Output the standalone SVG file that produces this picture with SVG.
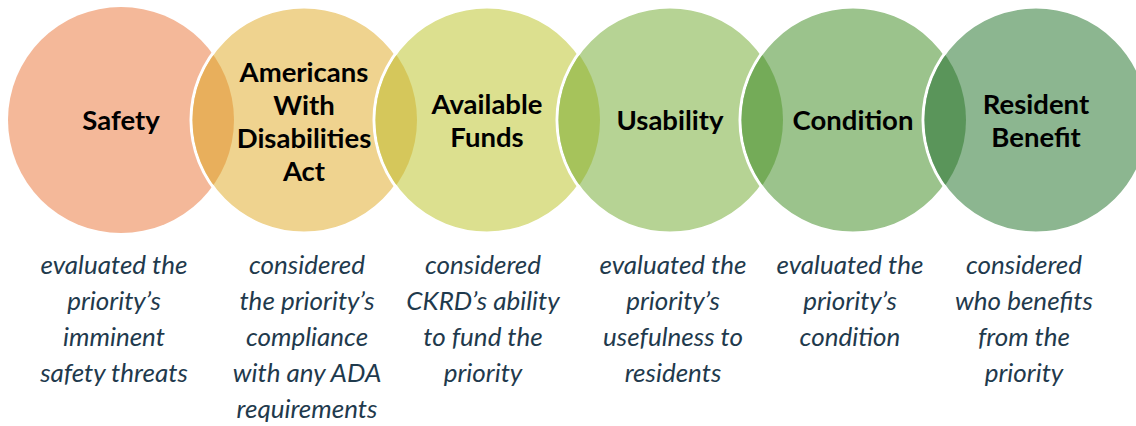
<svg xmlns="http://www.w3.org/2000/svg" width="1136" height="426" viewBox="0 0 1136 426">
<style>
.c{stroke:#fff;stroke-width:3}
.t{font-family:Lato,"Liberation Sans",sans-serif;font-weight:bold;font-size:27.5px;fill:#000;text-anchor:middle}
.d{font-family:Lato,"Liberation Sans",sans-serif;font-style:italic;font-size:26px;fill:#1F3A4D;text-anchor:middle}
</style>
<rect width="1136" height="426" fill="#fff"/>
<defs>
<clipPath id="k1"><circle cx="121" cy="120" r="113"/></clipPath>
<clipPath id="k2"><circle cx="304" cy="120" r="113"/></clipPath>
<clipPath id="k3"><circle cx="487" cy="120" r="113"/></clipPath>
<clipPath id="k4"><circle cx="670" cy="120" r="113"/></clipPath>
<clipPath id="k5"><circle cx="853" cy="120" r="113"/></clipPath>
</defs>
<g id="safety">
<circle cx="121" cy="120" r="113" fill="#F4B899"/>
<text class="t" x="121" y="130">Safety</text>
</g>
<g id="ada">
<circle class="c" cx="304" cy="120" r="113" fill="#EFD38F"/>
<circle cx="304" cy="120" r="111.5" fill="#E8AF5C" clip-path="url(#k1)"/>
<text class="t" x="304" y="82">Americans</text>
<text class="t" x="304" y="115">With</text>
<text class="t" x="304" y="148">Disabilities</text>
<text class="t" x="304" y="181">Act</text>
</g>
<g id="funds">
<circle class="c" cx="487" cy="120" r="113" fill="#DCE08F"/>
<circle cx="487" cy="120" r="111.5" fill="#D5C75B" clip-path="url(#k2)"/>
<text class="t" x="487" y="114">Available</text>
<text class="t" x="487" y="147">Funds</text>
</g>
<g id="usability">
<circle class="c" cx="670" cy="120" r="113" fill="#B6D394"/>
<circle cx="670" cy="120" r="111.5" fill="#A6C35B" clip-path="url(#k3)"/>
<text class="t" x="670" y="130">Usability</text>
</g>
<g id="condition">
<circle class="c" cx="853" cy="120" r="113" fill="#9BC38C"/>
<circle cx="853" cy="120" r="111.5" fill="#74AB58" clip-path="url(#k4)"/>
<text class="t" x="853" y="130">Condition</text>
</g>
<g id="benefit">
<circle class="c" cx="1036" cy="120" r="113" fill="#8CB690"/>
<circle cx="1036" cy="120" r="111.5" fill="#5A955A" clip-path="url(#k5)"/>
<text class="t" x="1036" y="114">Resident</text>
<text class="t" x="1036" y="147">Benefit</text>
</g>
<g id="desc-safety">
<text class="d" x="114" y="274">evaluated the</text>
<text class="d" x="114" y="310">priority’s</text>
<text class="d" x="114" y="346">imminent</text>
<text class="d" x="114" y="382">safety threats</text>
</g>
<g id="desc-ada">
<text class="d" x="307" y="274">considered</text>
<text class="d" x="307" y="310">the priority’s</text>
<text class="d" x="307" y="346">compliance</text>
<text class="d" x="307" y="382">with any ADA</text>
<text class="d" x="307" y="418">requirements</text>
</g>
<g id="desc-funds">
<text class="d" x="483" y="274">considered</text>
<text class="d" x="483" y="310">CKRD’s ability</text>
<text class="d" x="483" y="346">to fund the</text>
<text class="d" x="483" y="382">priority</text>
</g>
<g id="desc-usability">
<text class="d" x="673" y="274">evaluated the</text>
<text class="d" x="673" y="310">priority’s</text>
<text class="d" x="673" y="346">usefulness to</text>
<text class="d" x="673" y="382">residents</text>
</g>
<g id="desc-condition">
<text class="d" x="850" y="274">evaluated the</text>
<text class="d" x="850" y="310">priority’s</text>
<text class="d" x="850" y="346">condition</text>
</g>
<g id="desc-benefit">
<text class="d" x="1024" y="274">considered</text>
<text class="d" x="1024" y="310">who benefits</text>
<text class="d" x="1024" y="346">from the</text>
<text class="d" x="1024" y="382">priority</text>
</g>
<g id="connectors"/>
</svg>
